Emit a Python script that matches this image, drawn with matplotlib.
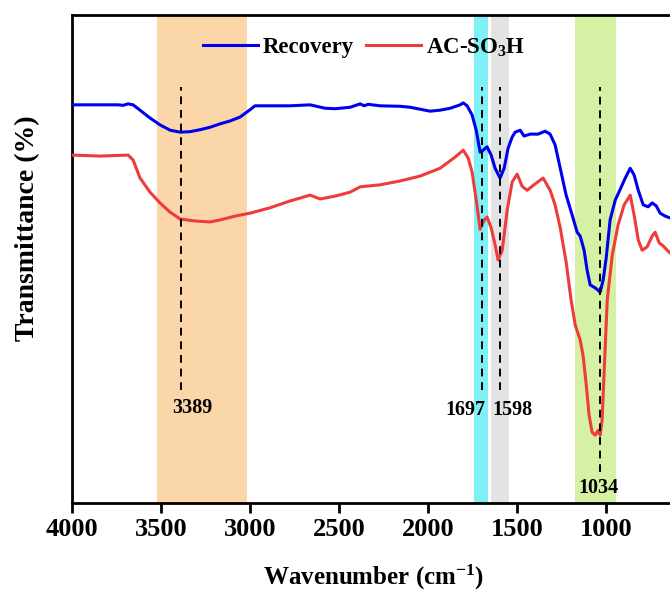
import numpy as np
import matplotlib.pyplot as plt

plt.rcParams['font.family'] = ['Liberation Serif', 'DejaVu Serif']
plt.rcParams['font.weight'] = 'bold'
plt.rcParams['mathtext.fontset'] = 'custom'
plt.rcParams['mathtext.rm'] = 'Liberation Serif:bold'
plt.rcParams['mathtext.it'] = 'Liberation Serif:bold'
plt.rcParams['mathtext.bf'] = 'Liberation Serif:bold'

# FTIR spectra (wavenumber in cm-1, transmittance in arbitrary units)
wn_recovery = [4000, 3742, 3713, 3685, 3657, 3618, 3562, 3506, 3449, 3393, 3337,
               3281, 3225, 3169, 3112, 3056, 3000, 2972, 2888, 2775, 2663, 2579,
               2522, 2438, 2382, 2360, 2337, 2270, 2157, 2101, 2045, 1989, 1933,
               1876, 1820, 1803, 1781, 1753, 1730, 1708, 1691, 1669, 1646, 1624,
               1596, 1573, 1551, 1528, 1511, 1483, 1461, 1427, 1382, 1343, 1315,
               1287, 1258, 1225, 1191, 1163, 1146, 1124, 1107, 1090, 1062, 1045,
               1034, 1017, 1000, 978, 949, 921, 893, 865, 843, 820, 792, 764, 742,
               719, 697, 669, 640, 600]
t_recovery = [81.6, 81.6, 81.5, 81.8, 81.6, 80.5, 78.9, 77.5, 76.4, 76.0, 76.1,
              76.5, 77.0, 77.7, 78.3, 79.1, 80.6, 81.4, 81.4, 81.4, 81.6, 80.9,
              80.8, 81.1, 81.8, 81.4, 81.7, 81.4, 81.3, 81.1, 80.7, 80.3, 80.5,
              80.9, 81.6, 82.0, 81.4, 79.5, 76.4, 71.9, 72.3, 73.0, 71.3, 68.6,
              66.6, 68.6, 72.7, 75.0, 76.0, 76.4, 75.2, 75.6, 75.6, 76.2, 75.6,
              73.4, 68.6, 63.1, 59.0, 55.5, 54.7, 51.8, 47.7, 44.7, 44.1, 43.6,
              43.2, 45.7, 50.2, 58.0, 62.1, 64.3, 66.6, 68.6, 67.2, 64.1, 61.1,
              60.7, 61.5, 60.9, 59.4, 58.8, 58.4, 58.2]

wn_acso3h = [4000, 3843, 3685, 3657, 3618, 3562, 3506, 3449, 3393, 3309, 3225,
             3169, 3084, 3000, 2888, 2775, 2663, 2607, 2522, 2438, 2382, 2270,
             2157, 2045, 1933, 1848, 1803, 1775, 1753, 1730, 1708, 1685, 1669,
             1646, 1624, 1607, 1584, 1556, 1528, 1500, 1472, 1444, 1399, 1354,
             1315, 1287, 1258, 1225, 1197, 1174, 1146, 1130, 1112, 1096, 1079,
             1062, 1045, 1034, 1023, 1011, 994, 966, 933, 899, 865, 843, 820,
             798, 770, 742, 725, 702, 680, 657, 640, 600]
t_acso3h = [71.3, 71.1, 71.3, 70.3, 66.6, 63.7, 61.5, 59.6, 58.2, 57.8, 57.6,
            58.0, 58.8, 59.4, 60.5, 61.9, 63.1, 62.3, 62.9, 63.7, 64.8, 65.2,
            66.0, 67.0, 68.6, 70.9, 72.3, 70.7, 67.8, 62.1, 56.1, 58.0, 58.6,
            56.4, 52.9, 49.8, 51.8, 60.0, 65.8, 67.4, 64.9, 64.1, 65.4, 66.6,
            64.1, 61.1, 56.4, 49.4, 41.6, 36.5, 33.4, 30.3, 24.2, 18.0, 14.5,
            13.9, 14.9, 13.9, 17.0, 27.3, 41.6, 50.8, 57.0, 61.1, 63.1, 59.0,
            53.9, 51.8, 52.5, 54.7, 55.5, 53.3, 52.7, 51.8, 51.2, 50.5]

# highlighted absorption regions (start, end, colour)
bands = [(3520, 3020, '#fad6a8'), (1740, 1665, '#7ff0f6'),
         (1645, 1545, '#e3e3e3'), (1175, 945, '#d5f1a3')]

# marked peaks: position, dashed-line bottom, label height, label offset (pt)
peaks = [3389, 1697, 1598, 1034]
peak_bottom = [23.2, 23.2, 23.2, 6.4]
peak_label_y = [19.5, 19.1, 19.1, 3.1]
peak_label_dx = [8.5, -12, 9.3, -1.5]

fig = plt.figure(figsize=(6.7, 5.92), dpi=100)
ax = fig.add_axes([0.1075, 0.1503, 0.9567, 0.8243])

for start, end, color in bands:
    ax.axvspan(start, end, color=color, lw=0, zorder=0)

ax.plot(wn_recovery, t_recovery, color='#0000ee', lw=2.2, label='Recovery', zorder=3)
ax.plot(wn_acso3h, t_acso3h, color='#ee3b3b', lw=2.2, label='AC-SO$_3$H', zorder=3)

for p, yb, yl, dx in zip(peaks, peak_bottom, peak_label_y, peak_label_dx):
    ax.vlines(p, yb, 85.2, colors='black', linestyles=(0, (4, 3)), lw=1.4, zorder=4)
    ax.annotate(str(p), (p, yl), xytext=(dx, 0), textcoords='offset points',
                ha='center', va='center', fontsize=14.5, fontweight='bold')

ax.set_xlim(4000, 400)
ax.set_ylim(0, 100)
ax.set_xticks([4000, 3500, 3000, 2500, 2000, 1500, 1000])
ax.set_yticks([])
ax.tick_params(axis='x', direction='out', length=7, width=2, labelsize=19, pad=4)
for s in ax.spines.values():
    s.set_linewidth(2)

ax.set_xlabel('Wavenumber (cm$^{-1}$)', fontsize=18, fontweight='bold')
ax.xaxis.set_label_coords(0.471, -0.122)
ax.set_ylabel('Transmittance (%)', fontsize=20, fontweight='bold')
ax.yaxis.set_label_coords(-0.05, 0.563)

ax.legend(loc='upper left', bbox_to_anchor=(0.19, 0.975), ncol=2, frameon=False,
          fontsize=16.5, handlelength=2.4, handletextpad=0.22, columnspacing=0.52,
          borderaxespad=0)

fig.savefig('out.png', dpi=100)
